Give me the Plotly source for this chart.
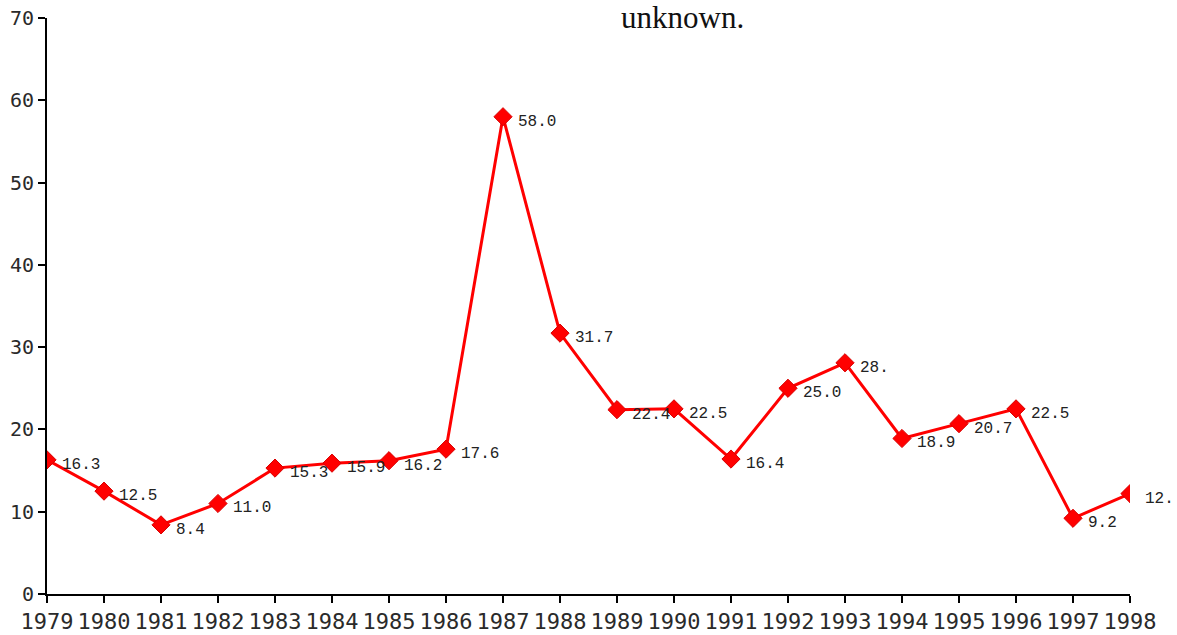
import plotly.graph_objects as go

years = [1979, 1980, 1981, 1982, 1983, 1984, 1985, 1986, 1987, 1988,
         1989, 1990, 1991, 1992, 1993, 1994, 1995, 1996, 1997, 1998]
values = [16.3, 12.5, 8.4, 11.0, 15.3, 15.9, 16.2, 17.6, 58.0, 31.7,
          22.4, 22.5, 16.4, 25.0, 28.1, 18.9, 20.7, 22.5, 9.2, 12.2]
labels = ["16.3", "12.5", "8.4", "11.0", "15.3", "15.9", "16.2", "17.6", "58.0", "31.7",
          "22.4", "22.5", "16.4", "25.0", "28.", "18.9", "20.7", "22.5", "9.2", "12."]
y_ticks = [0, 10, 20, 30, 40, 50, 60, 70]
title_text = "unknown."

fig = go.Figure()
fig.add_trace(go.Scatter(
    x=years, y=values, mode="lines+markers",
    line=dict(color="#ff0000", width=3),
    marker=dict(symbol="diamond", size=14, color="#ff0000",
                line=dict(color="#d80000", width=1)),
    showlegend=False, hoverinfo="x+y",
))

for x, y, t in zip(years, values, labels):
    fig.add_annotation(x=x, y=y, text=t, showarrow=False,
                       xanchor="left", yanchor="middle", xshift=13, yshift=-5,
                       font=dict(family="Liberation Mono", size=16, color="#222222"))

fig.add_annotation(xref="paper", yref="paper", x=0.587, y=1.001,
                   text=title_text, showarrow=False, xanchor="center", yanchor="middle",
                   font=dict(family="Liberation Serif", size=31, color="#111111"))

fig.update_layout(
    width=1177, height=635,
    margin=dict(l=47, r=47, t=18, b=41, autoexpand=False),
    paper_bgcolor="white", plot_bgcolor="white",
    xaxis=dict(range=[1979, 1998], tickmode="array", tickvals=years,
               ticktext=[str(y) for y in years], automargin=False, tickangle=0,
               showgrid=False, zeroline=False, showline=True, linecolor="black", linewidth=2,
               ticks="outside", ticklen=7, tickwidth=2, tickcolor="black",
               tickfont=dict(family="DejaVu Sans Mono", size=22, color="#2a2a2a")),
    yaxis=dict(range=[0, 70], tickmode="array", tickvals=y_ticks, automargin=False,
               showgrid=False, zeroline=False, showline=True, linecolor="black", linewidth=2,
               ticks="outside", ticklen=7, tickwidth=2, tickcolor="black",
               tickfont=dict(family="DejaVu Sans Mono", size=20, color="#2a2a2a")),
)

fig.write_html("out.html", config={"displayModeBar": False},
               post_script="document.body.style.margin='0';document.body.style.overflow='hidden';")
